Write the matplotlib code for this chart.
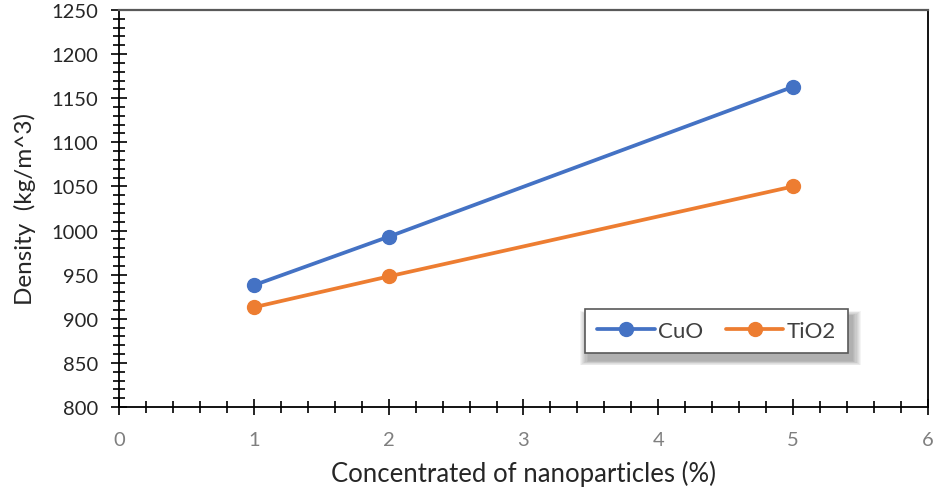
import matplotlib
matplotlib.use("Agg")
import matplotlib.pyplot as plt
from matplotlib.ticker import MultipleLocator
from matplotlib.patches import Rectangle

plt.rcParams['font.family'] = ['Lato', 'DejaVu Sans']

# Nanoparticle concentration (%) and measured nanofluid density (kg/m^3)
concentration = [1, 2, 5]
density_cuo = [938, 993, 1163]
density_tio2 = [913, 948, 1050]
series_labels = ["CuO", "TiO2"]
x_label = "Concentrated of nanoparticles (%)"
y_label = "Density  (kg/m^3)"

blue = "#4472C4"
orange = "#ED7D31"

fig = plt.figure(figsize=(9.38, 5.02), dpi=100)
ax = fig.add_axes([0.1269, 0.1873, 0.8624, 0.7908])

ax.plot(concentration, density_cuo, color=blue, lw=2.7, marker="o", ms=10,
        label=series_labels[0], solid_capstyle="round")
ax.plot(concentration, density_tio2, color=orange, lw=2.7, marker="o", ms=10,
        label=series_labels[1], solid_capstyle="round")

ax.set_xlim(0, 6)
ax.set_ylim(800, 1250)
ax.xaxis.set_major_locator(MultipleLocator(1))
ax.xaxis.set_minor_locator(MultipleLocator(0.2))
ax.yaxis.set_major_locator(MultipleLocator(50))
ax.yaxis.set_minor_locator(MultipleLocator(10))

ax.tick_params(axis="both", which="major", direction="inout", length=12,
               width=1.2, color="black", labelsize=14.5)
ax.tick_params(axis="both", which="minor", direction="inout", length=8.5,
               width=1.2, color="black")
ax.tick_params(axis="y", which="major", pad=9, labelcolor="#262626")
ax.tick_params(axis="x", which="major", pad=11, labelcolor="#7f7f7f")

for side in ["left", "bottom", "right"]:
    ax.spines[side].set_color("black")
    ax.spines[side].set_linewidth(1.3)
ax.spines["top"].set_color("#595959")
ax.spines["top"].set_linewidth(1.6)

ax.set_xlabel(x_label, fontsize=18.5, color="#262626", labelpad=9)
ax.set_ylabel(y_label, fontsize=17.5, color="#262626", labelpad=11)

leg = ax.legend(loc="upper left", bbox_to_anchor=(585 / 938, 1 - 310 / 502),
                bbox_transform=fig.transFigure, ncol=2, fontsize=16,
                frameon=True, fancybox=False, shadow=False, borderpad=0.55,
                handlelength=2.6, columnspacing=1.0, handletextpad=0.15,
                borderaxespad=0)
leg.get_frame().set_edgecolor("#595959")
leg.get_frame().set_linewidth(1.2)
leg.get_frame().set_alpha(1)
leg.set_zorder(10)
for t in leg.get_texts():
    t.set_color("#404040")

# soft drop shadow beneath the legend box
fig.canvas.draw()
bb = leg.get_window_extent().transformed(fig.transFigure.inverted())
for i in range(8):
    grow = (8 - i) * 0.0012
    ax.add_patch(Rectangle(
        (bb.x0 + 0.004 - grow, bb.y0 - 0.014 - grow),
        bb.width + 2 * grow, bb.height + 2 * grow,
        transform=fig.transFigure, clip_on=False,
        facecolor="black", edgecolor="none", alpha=0.045, zorder=5))

fig.savefig("out.png", dpi=100)
